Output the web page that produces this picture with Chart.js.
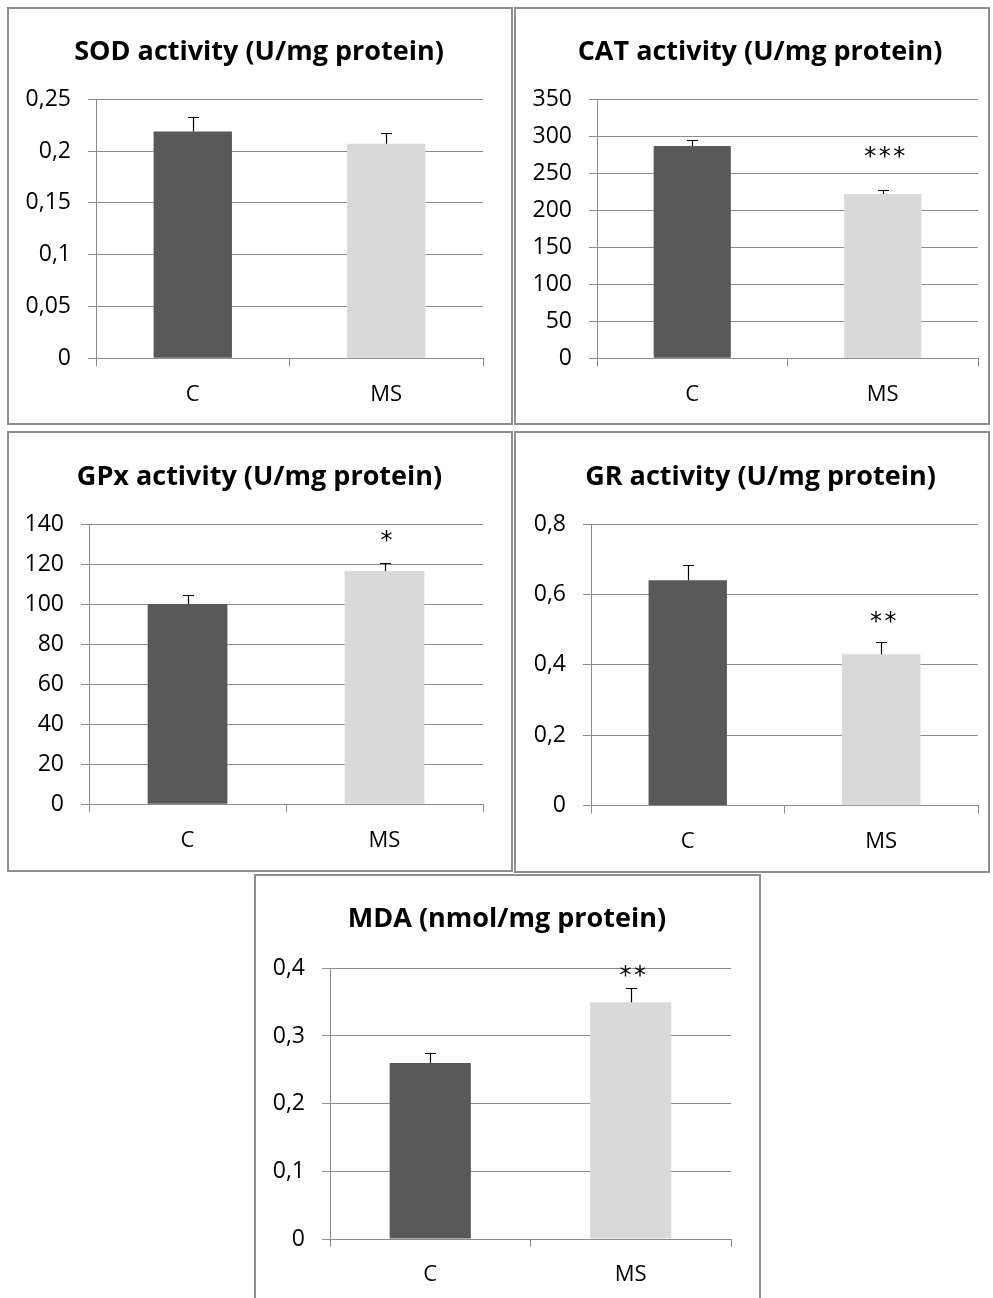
<!DOCTYPE html>
<html>
<head>
<meta charset="utf-8">
<script src="https://cdn.jsdelivr.net/npm/chart.js@4.4.0/dist/chart.umd.min.js"></script>
<style>
  html, body { margin: 0; padding: 0; background: #ffffff; width: 993px; height: 1298px; overflow: hidden; }
  .panel { position: absolute; }
  .panel canvas { position: absolute; left: 0; top: 0; }
  .frame { position: absolute; left: 0; top: 0; box-sizing: border-box; border: 2px solid #8e8e8e; pointer-events: none; }
</style>
</head>
<body>
<div id="root"></div>
<script>
// ---------------- DATA ----------------
const categories = ['C', 'MS'];

const sodTitle = 'SOD activity (U/mg protein)';
const sodMean = [0.219, 0.207];
const sodErr = [0.014, 0.010];
const sodTicks = { max: 0.25, step: 0.05 };
const sodSig = ['', ''];
const sodSigY = [null, null];

const catTitle = 'CAT activity (U/mg protein)';
const catMean = [287, 222];
const catErr = [8, 6];
const catTicks = { max: 350, step: 50 };
const catSig = ['', '***'];
const catSigY = [null, 277];

const gpxTitle = 'GPx activity (U/mg protein)';
const gpxMean = [100, 116.5];
const gpxErr = [4.5, 4.2];
const gpxTicks = { max: 140, step: 20 };
const gpxSig = ['', '*'];
const gpxSigY = [null, 133];

const grTitle = 'GR activity (U/mg protein)';
const grMean = [0.64, 0.43];
const grErr = [0.044, 0.036];
const grTicks = { max: 0.8, step: 0.2 };
const grSig = ['', '**'];
const grSigY = [null, 0.53];

const mdaTitle = 'MDA (nmol/mg protein)';
const mdaMean = [0.26, 0.35];
const mdaErr = [0.015, 0.021];
const mdaTicks = { max: 0.4, step: 0.1 };
const mdaSig = ['', '**'];
const mdaSigY = [null, 0.393];

const barColors = ['#595959', '#d9d9d9'];

// ---------------- LAYOUT (pixels) ----------------
const panels = [
  { title: sodTitle, mean: sodMean, err: sodErr, ticks: sodTicks, sig: sodSig, sigY: sodSigY,
    box: { x: 7, y: 7, w: 506, h: 418 }, plot: { l: 96, r: 483, t: 99.3, b: 358.3 }, titleY: 52, titleX: 259 },
  { title: catTitle, mean: catMean, err: catErr, ticks: catTicks, sig: catSig, sigY: catSigY,
    box: { x: 514, y: 7, w: 476, h: 418 }, plot: { l: 597, r: 978, t: 99.3, b: 358.3 }, titleY: 52, titleX: 760 },
  { title: gpxTitle, mean: gpxMean, err: gpxErr, ticks: gpxTicks, sig: gpxSig, sigY: gpxSigY,
    box: { x: 7, y: 431, w: 506, h: 441 }, plot: { l: 89, r: 483, t: 524, b: 804.3 }, titleY: 477, titleX: 259.5 },
  { title: grTitle, mean: grMean, err: grErr, ticks: grTicks, sig: grSig, sigY: grSigY,
    box: { x: 514, y: 431, w: 476, h: 442 }, plot: { l: 591, r: 978, t: 524, b: 805.7 }, titleY: 477, titleX: 760.5 },
  { title: mdaTitle, mean: mdaMean, err: mdaErr, ticks: mdaTicks, sig: mdaSig, sigY: mdaSigY,
    box: { x: 254, y: 874, w: 507, h: 440 }, plot: { l: 330, r: 731, t: 968.3, b: 1239 }, titleY: 919, titleX: 507 }
];

const FONT = '"Open Sans", Lato, "DejaVu Sans", sans-serif';
const GRID = '#8c8c8c';
const TITLE_SIZE = 27;
const TITLE_LH = 1.2;

function fmt(v) {
  return String(Number(v.toFixed(4))).replace('.', ',');
}

// centre the title block on the requested x (layout padding would otherwise shift it)
const titleCenterPlugin = {
  id: 'titleCenter',
  afterLayout(chart, args, opts) {
    const tb = chart.titleBlock;
    if (tb) {
      tb.left = 0;
      tb.right = 2 * opts.cx;
      tb.width = tb.right - tb.left;
    }
  }
};

const errorBarPlugin = {
  id: 'errorBars',
  afterDatasetsDraw(chart, args, opts) {
    const ctx = chart.ctx;
    const meta = chart.getDatasetMeta(0);
    const ys = chart.scales.y;
    ctx.save();
    ctx.strokeStyle = '#000000';
    ctx.lineWidth = 1.2;
    meta.data.forEach((bar, i) => {
      const v = opts.mean[i], e = opts.err[i];
      const x = Math.round(bar.x) + 0.5;
      const y0 = ys.getPixelForValue(v);
      const y1 = Math.round(ys.getPixelForValue(v + e)) + 0.5;
      ctx.beginPath();
      ctx.moveTo(x, y0);
      ctx.lineTo(x, y1);
      ctx.moveTo(x - 5.5, y1);
      ctx.lineTo(x + 5.5, y1);
      ctx.stroke();
      if (opts.sig[i]) {
        ctx.fillStyle = '#000000';
        ctx.font = '24px "DejaVu Sans", sans-serif';
        ctx.textAlign = 'center';
        ctx.textBaseline = 'middle';
        ctx.fillText(opts.sig[i].split('').join('\u200A'), bar.x + 2, ys.getPixelForValue(opts.sigY[i]) + 4);
      }
    });
    ctx.restore();
  }
};

const root = document.getElementById('root');
panels.forEach((p) => {
  const div = document.createElement('div');
  div.className = 'panel';
  div.style.left = p.box.x + 'px';
  div.style.top = p.box.y + 'px';
  div.style.width = p.box.w + 'px';
  div.style.height = p.box.h + 'px';
  const cv = document.createElement('canvas');
  cv.width = p.box.w; cv.height = p.box.h;
  cv.style.width = p.box.w + 'px'; cv.style.height = p.box.h + 'px';
  const frame = document.createElement('div');
  frame.className = 'frame';
  frame.style.width = p.box.w + 'px';
  frame.style.height = p.box.h + 'px';
  div.appendChild(cv);
  div.appendChild(frame);
  root.appendChild(div);

  const lh = TITLE_SIZE * TITLE_LH;
  const relTitle = p.titleY - p.box.y;
  const relTop = p.plot.t - p.box.y;
  const padTop = relTitle - lh / 2;
  const padBottom = relTop - padTop - lh;
  const yWidth = p.plot.l - p.box.x;
  const xHeight = (p.box.y + p.box.h) - p.plot.b;
  const padRight = (p.box.x + p.box.w) - p.plot.r;

  new Chart(cv, {
    type: 'bar',
    data: {
      labels: categories,
      datasets: [{
        data: p.mean,
        backgroundColor: barColors,
        borderWidth: 0,
        barPercentage: 0.405,
        categoryPercentage: 1.0
      }]
    },
    options: {
      responsive: false,
      animation: false,
      devicePixelRatio: 1,
      layout: { padding: { left: 0, right: padRight, top: 0, bottom: 0 } },
      plugins: {
        legend: { display: false },
        tooltip: { enabled: false },
        title: {
          display: true,
          text: p.title,
          color: '#000000',
          font: { family: FONT, size: TITLE_SIZE, weight: 'bold', lineHeight: TITLE_LH },
          padding: { top: padTop, bottom: padBottom }
        },
        titleCenter: { cx: p.titleX - p.box.x },
        errorBars: { mean: p.mean, err: p.err, sig: p.sig, sigY: p.sigY }
      },
      scales: {
        x: {
          afterFit(scale) { scale.height = xHeight; },
          grid: { display: true, drawOnChartArea: false, drawTicks: true, tickLength: 8, color: GRID, offset: true },
          border: { display: true, color: GRID, width: 1 },
          ticks: { color: '#000000', font: { family: FONT, size: 22 }, padding: 15 }
        },
        y: {
          min: 0,
          max: p.ticks.max,
          afterFit(scale) { scale.width = yWidth; },
          grid: { color: GRID, tickLength: 8, lineWidth: 1 },
          border: { display: true, color: GRID, width: 1 },
          ticks: {
            stepSize: p.ticks.step,
            color: '#000000',
            font: { family: FONT, size: 23 },
            padding: 17,
            callback: (v) => fmt(v)
          }
        }
      }
    },
    plugins: [titleCenterPlugin, errorBarPlugin]
  });
});
</script>
</body>
</html>
